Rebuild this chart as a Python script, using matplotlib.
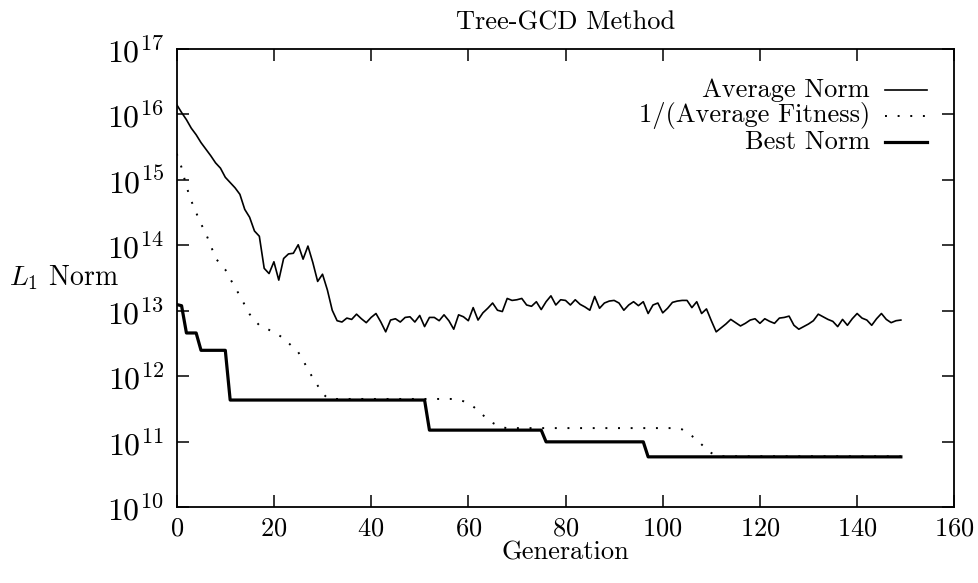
import numpy as np
import matplotlib
matplotlib.use("Agg")
import matplotlib.pyplot as plt

plt.rcParams['font.family'] = 'serif'
plt.rcParams['font.serif'] = ['cmr10', 'DejaVu Serif']
plt.rcParams['mathtext.fontset'] = 'cm'
plt.rcParams['axes.unicode_minus'] = False
plt.rcParams['axes.formatter.use_mathtext'] = True

# Average Norm, log10 of value, one per generation 0..149
avg_exp = [16.15, 16.03, 15.92, 15.79, 15.69, 15.57, 15.47, 15.37, 15.26, 15.18,
           15.04, 14.96, 14.88, 14.78, 14.55, 14.43, 14.22, 14.14, 13.65, 13.57,
           13.75, 13.47, 13.80, 13.87, 13.88, 14.01, 13.79, 13.99, 13.74, 13.45,
           13.56, 13.32, 13.01, 12.85, 12.83, 12.89, 12.87, 12.95, 12.88, 12.82,
           12.90, 12.96, 12.83, 12.68, 12.86, 12.88, 12.83, 12.90, 12.91, 12.83,
           12.93, 12.76, 12.90, 12.90, 12.85, 12.94, 12.85, 12.72, 12.94, 12.91,
           12.85, 13.05, 12.86, 12.97, 13.04, 13.12, 13.01, 12.99, 13.19, 13.16,
           13.17, 13.19, 13.09, 13.07, 13.14, 13.02, 13.14, 13.23, 13.09, 13.17,
           13.16, 13.09, 13.17, 13.10, 13.06, 13.01, 13.22, 13.04, 13.12, 13.15,
           13.16, 13.12, 13.01, 13.09, 13.14, 13.08, 13.14, 12.96, 13.09, 13.12,
           12.97, 13.04, 13.13, 13.15, 13.16, 13.16, 13.05, 13.14, 12.96, 13.03,
           12.85, 12.68, 12.74, 12.80, 12.87, 12.82, 12.77, 12.81, 12.86, 12.88,
           12.81, 12.88, 12.84, 12.81, 12.89, 12.90, 12.92, 12.78, 12.72, 12.76,
           12.80, 12.85, 12.95, 12.91, 12.87, 12.84, 12.76, 12.87, 12.78, 12.88,
           12.96, 12.89, 12.86, 12.78, 12.88, 12.96, 12.87, 12.82, 12.85, 12.86]

# 1/(Average Fitness): breakpoints (generation, log10 value)
fit_gen = [0, 1, 2, 3, 4, 5, 6, 7, 8, 9, 10, 11, 12, 13, 14, 15, 16, 17, 18, 19,
           20, 21, 22, 23, 24, 25, 26, 27, 28, 29, 30, 31, 32, 57, 58, 59, 60, 61,
           62, 63, 64, 65, 66, 67, 68, 103, 104, 105, 106, 107, 108, 109, 110, 111,
           112, 149]
fit_exp = [15.40, 15.19, 14.90, 14.68, 14.50, 14.33, 14.18, 14.00, 13.80, 13.72,
           13.63, 13.49, 13.36, 13.23, 13.09, 12.95, 12.86, 12.78, 12.75, 12.71,
           12.67, 12.63, 12.58, 12.51, 12.44, 12.37, 12.25, 12.10, 11.98, 11.86,
           11.74, 11.67, 11.655, 11.655, 11.64, 11.62, 11.58, 11.54,
           11.48, 11.41, 11.34, 11.29, 11.25, 11.22, 11.21, 11.21, 11.19, 11.14,
           11.09, 11.03, 10.96, 10.89, 10.83, 10.79, 10.78, 10.78]

# Best Norm: breakpoints (generation, value)
best_gen = [0, 1, 2, 4, 5, 10, 11, 51, 52, 75, 76, 96, 97, 149]
best_val = [1.25e13, 1.2e13, 4.6e12, 4.6e12, 2.5e12, 2.5e12, 4.35e11, 4.35e11,
            1.51e11, 1.51e11, 1.0e11, 1.0e11, 5.9e10, 5.9e10]

fig = plt.figure(figsize=(9.79, 5.83), dpi=100)
ax = fig.add_axes([0.1805, 0.1298, 0.7943, 0.7862])

gens = np.arange(len(avg_exp))
ax.plot(gens, 10 ** np.array(avg_exp), color='black', lw=1.2)
ax.plot(fit_gen, 10 ** np.array(fit_exp), color='black', lw=1.4,
        linestyle=(0, (1, 5.5)), dash_capstyle='butt')
ax.plot(best_gen, best_val, color='black', lw=2.3)

ax.set_yscale('log')
ax.set_xlim(0, 160)
ax.set_ylim(1e10, 1e17)
ax.set_xticks(np.arange(0, 161, 20))
ax.set_yticks([10.0 ** k for k in range(10, 18)])
ax.minorticks_off()
ax.tick_params(which='major', direction='in', length=8.5, width=1.1,
               top=True, right=True)
ax.tick_params(axis='x', labelsize=19, pad=7)
ax.tick_params(axis='y', labelsize=23, pad=9)
for s in ax.spines.values():
    s.set_linewidth(1.3)

ax.set_title('Tree-GCD Method', fontsize=19, pad=14)
ax.set_xlabel('Generation', fontsize=19, labelpad=0)
fig.text(64 / 979, 1 - 278 / 583, '$L_1$ Norm', fontsize=20,
         ha='center', va='center')

# legend drawn by hand: right aligned labels, sample lines on the right
labels = ['Average Norm', '1/(Average Fitness)', 'Best Norm']
styles = [dict(lw=1.2), dict(lw=1.4, linestyle=(0, (1, 5.5))), dict(lw=2.3)]
for i, (lab, st) in enumerate(zip(labels, styles)):
    y = 0.9106 - i * 0.0567
    ax.text(0.8916, y, lab, transform=ax.transAxes, ha='right', va='center',
            fontsize=19)
    ax.plot([0.9107, 0.965], [y, y], transform=ax.transAxes, color='black', **st)

fig.savefig('out.png', dpi=100)
print('Fertig')
